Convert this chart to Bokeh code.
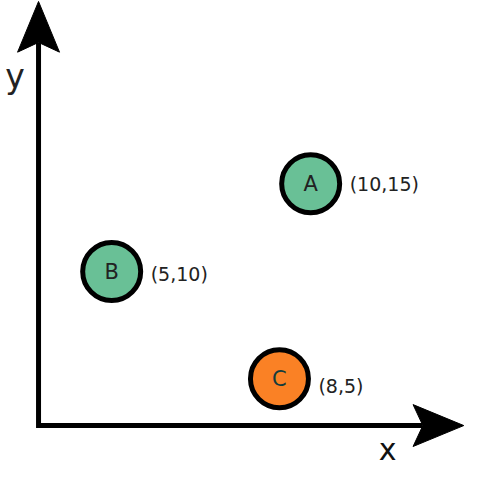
from bokeh.plotting import figure
from bokeh.models import Range1d, ColumnDataSource
from bokeh.core.properties import value
from bokeh.embed import file_html
from bokeh.resources import INLINE

# Points of the diagram (positions as drawn in the diagram, y pointing up)
names = ["A", "B", "C"]
coord_labels = ["(10,15)", "(5,10)", "(8,5)"]
pos_x = [318, 114, 286]
pos_y = [294, 204, 94]
fills = ["#69c096", "#69c096", "#fa8125"]
letter_colors = ["#222222", "#222222", "#123c3c"]
label_dy = [0, 2, 7]

# Axis geometry (diagram units)
origin_x, origin_y = 39, 46
x_end, y_end = 475, 481
head_len, head_half, notch = 52, 21.5, 10

W, H = 475, 466
p = figure(width=W, height=H, x_range=Range1d(0, 487), y_range=Range1d(4, 482),
           output_backend="svg", toolbar_location=None, min_border=0)
p.axis.visible = False
p.grid.visible = False
p.outline_line_color = None
p.background_fill_color = "white"
p.border_fill_color = "white"

# axis lines
p.line([origin_x, origin_x, x_end - head_len + notch],
       [y_end - head_len + notch, origin_y, origin_y],
       line_color="black", line_width=5, line_join="miter")

# arrow heads (notched)
p.patch([origin_x, origin_x - head_half, origin_x, origin_x + head_half],
        [y_end, y_end - head_len, y_end - head_len + notch, y_end - head_len],
        fill_color="black", line_color="black", line_width=1)
p.patch([x_end, x_end - head_len, x_end - head_len + notch, x_end - head_len],
        [origin_y, origin_y + head_half, origin_y, origin_y - head_half],
        fill_color="black", line_color="black", line_width=1)

src = ColumnDataSource(dict(x=pos_x, y=pos_y, name=names, lab=coord_labels,
                            fill=fills, lc=letter_colors, dy=label_dy))

p.scatter("x", "y", source=src, size=58, fill_color="fill", line_color="black",
          line_width=5)
p.text("x", "y", text="name", source=src, text_align="center", text_baseline="middle",
       text_font=value("DejaVu Sans"), text_font_size="21px", text_color="lc")
p.text("x", "y", text="lab", source=src, x_offset=39, y_offset="dy",
       text_align="left", text_baseline="middle",
       text_font=value("DejaVu Sans"), text_font_size="19px", text_color="#222222")

# axis names
p.text([15], [404], text=["y"], text_align="center", text_baseline="middle",
       text_font=value("DejaVu Sans"), text_font_size="33px", text_color="#222222")
p.text([397], [21], text=["x"], text_align="center", text_baseline="middle",
       text_font=value("DejaVu Sans"), text_font_size="30px", text_color="#111111")

open("out.html", "w").write(file_html(p, INLINE))
